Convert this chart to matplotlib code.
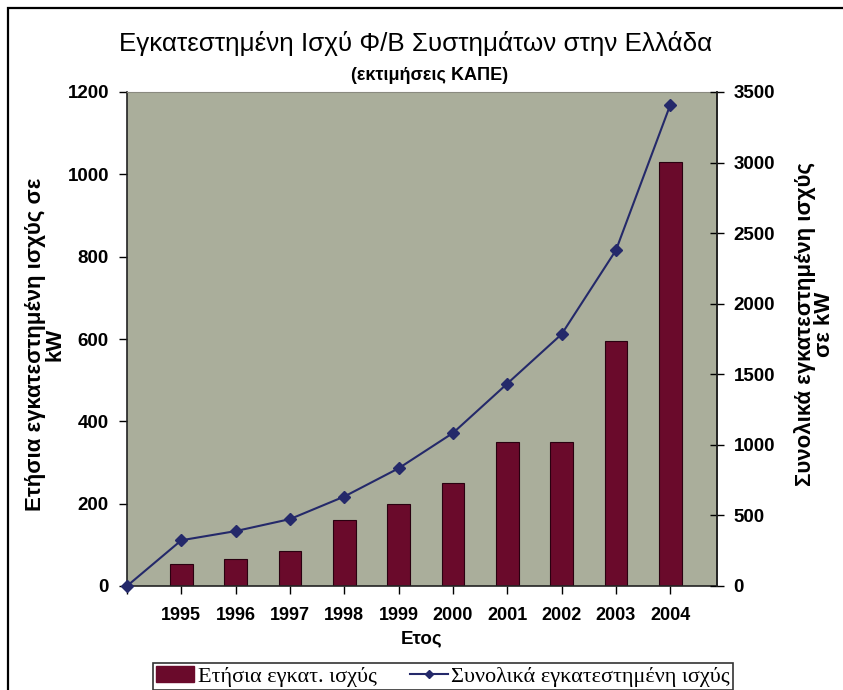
import matplotlib
matplotlib.use("Agg")
import matplotlib.pyplot as plt
from matplotlib.patches import Rectangle, Patch
from matplotlib.lines import Line2D

# ── Data ──────────────────────────────────────────────────────────────────────
years = ["1995", "1996", "1997", "1998", "1999", "2000", "2001", "2002", "2003", "2004"]
annual_kw = [54, 65, 85, 160, 200, 250, 350, 350, 595, 1030]
cumulative_kw = [0, 324, 389, 474, 634, 834, 1084, 1434, 1784, 2379, 3409]

BG = "#AAAE9B"
BAR = "#6A0A2B"
LINE = "#24296A"
SANS = ["Liberation Sans", "DejaVu Sans"]
SERIF = ["Liberation Serif", "DejaVu Serif"]

fig = plt.figure(figsize=(8.43, 6.9), dpi=100)
W, H = 843, 690

# outer chart border (cropped on right and bottom)
fig.patches.append(Rectangle((8 / W, -0.05), 1.1, 1 - 8 / H + 0.05,
                             transform=fig.transFigure, fill=False,
                             edgecolor="black", linewidth=1.6, zorder=0))

ax = fig.add_axes([127 / W, 1 - 586 / H, (717 - 127) / W, (586 - 92) / H])
ax.set_facecolor(BG)

bar_x = list(range(1, len(years) + 1))
ax.bar(bar_x, annual_kw, width=0.42, color=BAR, edgecolor="#2a0010",
       linewidth=0.8, zorder=2)

ax.set_xlim(0, 10.86)
ax.set_ylim(0, 1200)
ax.set_yticks(range(0, 1201, 200))
ax.set_xticks(range(0, len(years) + 1))
ax.set_xticklabels([""] + years)

for s in ["left", "bottom", "right"]:
    ax.spines[s].set_color("#222222")
    ax.spines[s].set_linewidth(1.2)
ax.spines["top"].set_color("#8a8a80")
ax.spines["top"].set_linewidth(0.8)

ax.tick_params(axis="y", direction="out", length=6, width=1, pad=7)
ax.tick_params(axis="x", direction="out", length=6, width=1, pad=9)
for lbl in ax.get_yticklabels():
    lbl.set_fontfamily(SANS)
    lbl.set_fontweight("bold")
    lbl.set_fontsize(13.5)
for lbl in ax.get_xticklabels():
    lbl.set_fontfamily(SANS)
    lbl.set_fontweight("bold")
    lbl.set_fontsize(13)

ax.set_xlabel("Ετος", fontsize=13.5, fontweight="bold", family=SANS, labelpad=5)
ax.set_ylabel("Ετήσια εγκατεστημένη ισχύς σε\nkW", fontsize=16,
              fontweight="bold", family=SANS, linespacing=0.9)
ax.yaxis.set_label_coords(-0.105, 0.49)

ax2 = ax.twinx()
ax2.plot(range(len(cumulative_kw)), cumulative_kw, color=LINE, linewidth=1.5,
         marker="D", markersize=6, markerfacecolor=LINE, markeredgecolor=LINE,
         zorder=3, clip_on=False)
ax2.set_ylim(0, 3500)
ax2.set_yticks(range(0, 3501, 500))
for s in ["left", "bottom", "top"]:
    ax2.spines[s].set_visible(False)
ax2.spines["right"].set_color("#222222")
ax2.spines["right"].set_linewidth(1.2)
ax2.tick_params(axis="y", direction="inout", length=10, width=1, pad=7)
for lbl in ax2.get_yticklabels():
    lbl.set_fontfamily(SANS)
    lbl.set_fontweight("bold")
    lbl.set_fontsize(13.5)
ax2.set_ylabel("Συνολικά εγκατεστημένη ισχύς\nσε kW", fontsize=16,
               fontweight="bold", family=SANS, rotation=90, linespacing=0.9)
ax2.yaxis.set_label_coords(1.13, 0.53)

fig.text(416 / W, 1 - 44 / H, "Εγκατεστημένη Ισχύ Φ/Β Συστημάτων στην Ελλάδα",
         ha="center", va="center", fontsize=18.7, family=SANS)
fig.text(430 / W, 1 - 75 / H, "(εκτιμήσεις ΚΑΠΕ)", ha="center", va="center",
         fontsize=13, fontweight="bold", family=SANS)

handles = [Patch(facecolor=BAR, edgecolor=BAR),
           Line2D([], [], color=LINE, linewidth=1.5, marker="D", markersize=4)]
labels = ["Ετήσια εγκατ. ισχύς", "Συνολικά εγκατεστημένη ισχύς"]
leg = fig.legend(handles, labels, loc="upper center",
                 bbox_to_anchor=(443 / W, 1 - 652 / H), ncol=2,
                 prop={"family": SERIF, "size": 16}, frameon=True, fancybox=False,
                 edgecolor="black", handlelength=1.7, handletextpad=0.15,
                 columnspacing=1.5, borderpad=0.15)
leg.get_frame().set_linewidth(1.2)

fig.savefig("out.png", dpi=100, facecolor="white")
